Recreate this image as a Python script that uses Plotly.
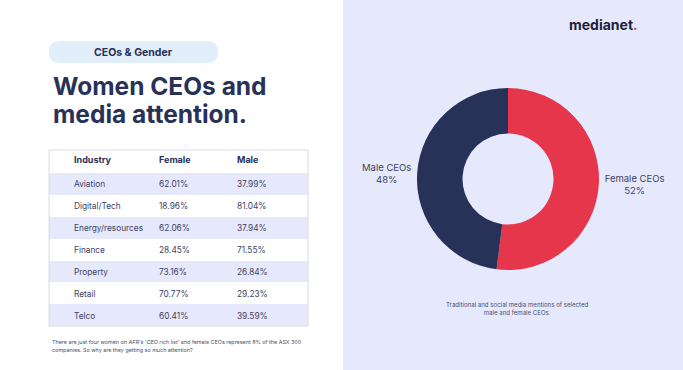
import plotly.graph_objects as go

W, H = 683, 370

def px(x):
    return x / W

def py(y):
    return 1 - y / H

# ---- data ----
industries = ["Aviation", "Digital/Tech", "Energy/resources", "Finance", "Property", "Retail", "Telco"]
female_pct = ["62.01%", "18.96%", "62.06%", "28.45%", "73.16%", "70.77%", "60.41%"]
male_pct = ["37.99%", "81.04%", "37.94%", "71.55%", "26.84%", "29.23%", "39.59%"]
table_headers = ["Industry", "Female", "Male"]

donut_labels = ["Female CEOs", "Male CEOs"]
donut_values = [52, 48]

NAVY = "#283158"
RED = "#E5364B"
LAV = "#E6E8FB"
TXT = "#3D4364"

row_fill = [LAV if i % 2 == 0 else "#FFFFFF" for i in range(len(industries))]

fig = go.Figure()

fig.add_trace(go.Pie(
    labels=donut_labels,
    values=donut_values,
    sort=False,
    direction="clockwise",
    rotation=0,
    hole=0.5,
    marker=dict(colors=[RED, NAVY], line=dict(width=0)),
    textposition="outside",
    texttemplate="%{label}<br>%{percent:.0%}",
    textfont=dict(family="Inter", size=9.5, color=TXT),
    domain=dict(x=[px(417), px(599)], y=[py(270), py(88)]),
    showlegend=False,
    hoverinfo="label+percent",
))

fig.add_trace(go.Table(
    domain=dict(x=[px(49), px(308)], y=[py(327), py(146)]),
    columnwidth=[17, 85, 78, 79],
    header=dict(
        values=[""] + ["<b>%s</b>" % h for h in table_headers],
        fill_color="#FFFFFF",
        line=dict(width=0, color="#FFFFFF"),
        align="left",
        height=23,
        font=dict(family="Inter", size=9, color=NAVY),
    ),
    cells=dict(
        values=[[""] * len(industries), industries, female_pct, male_pct],
        fill_color=[row_fill] * 4,
        line=dict(width=0, color="#FFFFFF"),
        align="left",
        height=21.9,
        font=dict(family="Inter", size=8.3, color=TXT),
    ),
))

shapes = [
    # right panel background
    dict(type="rect", xref="paper", yref="paper", x0=px(343), x1=1, y0=0, y1=1,
         fillcolor=LAV, line=dict(width=0), layer="below"),
    # pill
    dict(type="path", xref="paper", yref="paper",
         path="M %f,%f L %f,%f Q %f,%f %f,%f L %f,%f Q %f,%f %f,%f L %f,%f Q %f,%f %f,%f L %f,%f Q %f,%f %f,%f Z" % (
             px(60), py(41), px(207), py(41),
             px(218), py(41), px(218), py(52),
             px(218), py(52), px(218), py(63), px(207), py(63),
             px(60), py(63), px(49), py(63), px(49), py(52),
             px(49), py(52), px(49), py(41), px(60), py(41)),
         fillcolor="#E3EEFB", line=dict(width=0), layer="below"),
    # table outer border
    dict(type="rect", xref="paper", yref="paper", x0=px(49), x1=px(308), y0=py(326), y1=py(150),
         fillcolor="rgba(0,0,0,0)", line=dict(width=1, color="#DADCE6"), layer="above"),
]

annotations = [
    dict(text="<b>CEOs & Gender</b>", x=px(133), y=py(52), xref="paper", yref="paper",
         showarrow=False, xanchor="center", yanchor="middle",
         font=dict(family="Inter", size=10.5, color=NAVY)),
    dict(text="<b>Women CEOs and</b>", x=px(51), y=py(86), xref="paper", yref="paper",
         showarrow=False, xanchor="left", yanchor="middle", align="left",
         font=dict(family="Inter", size=24.5, color=NAVY)),
    dict(text="<b>media attention.</b>", x=px(51), y=py(114), xref="paper", yref="paper",
         showarrow=False, xanchor="left", yanchor="middle", align="left",
         font=dict(family="Inter", size=24.5, color=NAVY)),
    dict(text="<b>medianet</b><span style='color:%s'><b>.</b></span>" % RED, x=px(603), y=py(24), xref="paper", yref="paper",
         showarrow=False, xanchor="center", yanchor="middle",
         font=dict(family="Inter", size=14, color="#1B1E3C")),
    dict(text="Traditional and social media mentions of selected<br>male and female CEOs.",
         x=px(517), y=py(308.5), xref="paper", yref="paper",
         showarrow=False, xanchor="center", yanchor="middle", align="center",
         font=dict(family="Inter", size=6.1, color="#4A4F6A")),
    dict(text="There are just four women on <i>AFR's 'CEO rich list'</i> and female CEOs represent 8% of the ASX 300",
         x=px(50), y=py(342), xref="paper", yref="paper",
         showarrow=False, xanchor="left", yanchor="middle", align="left",
         font=dict(family="Inter", size=5.4, color="#4A4F6A")),
    dict(text="companies. So why are they getting so much attention?",
         x=px(50), y=py(350), xref="paper", yref="paper",
         showarrow=False, xanchor="left", yanchor="middle", align="left",
         font=dict(family="Inter", size=5.4, color="#4A4F6A")),
]

fig.update_layout(
    width=W, height=H,
    margin=dict(l=0, r=0, t=0, b=0),
    paper_bgcolor="#FFFFFF",
    plot_bgcolor="#FFFFFF",
    shapes=shapes,
    annotations=annotations,
    showlegend=False,
)

fig.write_html("out.html", config={"displayModeBar": False},
               post_script="document.body.style.margin='0px';")
